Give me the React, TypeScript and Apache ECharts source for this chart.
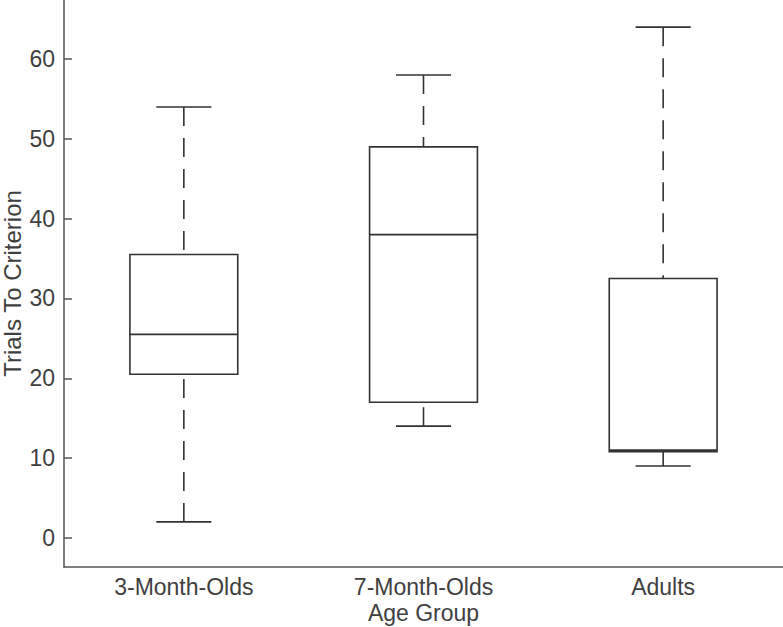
import React, { useEffect, useRef } from "react";
import * as echarts from "echarts";

const categories = ["3-Month-Olds", "7-Month-Olds", "Adults"];
const minValues = [2, 14, 9];
const q1Values = [20.5, 17, 10.8];
const medianValues = [25.5, 38, 11];
const q3Values = [35.5, 49, 32.5];
const maxValues = [54, 58, 64];
const yTicks = [0, 10, 20, 30, 40, 50, 60];

const FONT = "'Liberation Sans', Arial, Helvetica, sans-serif";
const TEXT = "#3f3f3f";
const AXIS = "#555555";
const LINE = "#333333";

export default function App() {
  const ref = useRef<HTMLDivElement>(null);
  useEffect(() => {
    if (!ref.current) return;
    const chart = echarts.init(ref.current, null, { renderer: "svg" });
    const data = categories.map((_, i) => [
      i,
      minValues[i],
      q1Values[i],
      medianValues[i],
      q3Values[i],
      maxValues[i],
    ]);
    chart.setOption({
      animation: false,
      backgroundColor: "#ffffff",
      grid: { left: 64, right: 0, top: 0, bottom: 60, outerBoundsMode: "none", containLabel: false },
      xAxis: {
        type: "category",
        data: categories,
        name: "Age Group",
        nameLocation: "middle",
        nameGap: 34,
        nameMoveOverlap: false,
        nameTextStyle: { color: TEXT, fontSize: 23, fontFamily: FONT },
        axisLine: { onZero: false, lineStyle: { color: AXIS, width: 1.5 } },
        axisTick: { inside: true, length: 8, alignWithLabel: true, lineStyle: { color: AXIS, width: 1.5 } },
        axisLabel: { color: TEXT, fontSize: 23, fontFamily: FONT, margin: 8 },
        splitLine: { show: false },
      },
      yAxis: {
        type: "value",
        min: -3.65,
        max: 67.4,
        name: "Trials To Criterion",
        nameLocation: "middle",
        nameGap: 40,
        nameMoveOverlap: false,
        nameTextStyle: { color: TEXT, fontSize: 24, fontFamily: FONT },
        axisLine: { show: true, onZero: false, lineStyle: { color: AXIS, width: 1.5 } },
        axisTick: { show: true, inside: true, length: 8, customValues: yTicks, lineStyle: { color: AXIS, width: 1.5 } },
        axisLabel: { color: TEXT, fontSize: 23, fontFamily: FONT, margin: 9, customValues: yTicks },
        splitLine: { show: false },
      },
      series: [
        {
          type: "custom",
          data,
          clip: false,
          renderItem: (params: any, api: any) => {
            const idx = api.value(0);
            const vMin = api.value(1);
            const vQ1 = api.value(2);
            const vMed = api.value(3);
            const vQ3 = api.value(4);
            const vMax = api.value(5);
            const band = api.size([1, 0])[0];
            const boxW = band * 0.45;
            const capW = band * 0.23;
            const pMin = api.coord([idx, vMin]);
            const pQ1 = api.coord([idx, vQ1]);
            const pMed = api.coord([idx, vMed]);
            const pQ3 = api.coord([idx, vQ3]);
            const pMax = api.coord([idx, vMax]);
            const cx = pMed[0];
            const solid = { stroke: LINE, lineWidth: 1.6, fill: "none" };
            const dashed = { stroke: LINE, lineWidth: 1.6, lineDash: [19, 12] };
            return {
              type: "group",
              children: [
                {
                  type: "line",
                  shape: { x1: cx, y1: pMax[1], x2: cx, y2: pQ3[1] },
                  style: dashed,
                },
                {
                  type: "line",
                  shape: { x1: cx, y1: pMin[1], x2: cx, y2: pQ1[1] },
                  style: dashed,
                },
                {
                  type: "line",
                  shape: { x1: cx - capW / 2, y1: pMax[1], x2: cx + capW / 2, y2: pMax[1] },
                  style: solid,
                },
                {
                  type: "line",
                  shape: { x1: cx - capW / 2, y1: pMin[1], x2: cx + capW / 2, y2: pMin[1] },
                  style: solid,
                },
                {
                  type: "rect",
                  shape: { x: cx - boxW / 2, y: pQ3[1], width: boxW, height: pQ1[1] - pQ3[1] },
                  style: { stroke: LINE, lineWidth: 1.6, fill: "#ffffff" },
                },
                {
                  type: "line",
                  shape: { x1: cx - boxW / 2, y1: pMed[1], x2: cx + boxW / 2, y2: pMed[1] },
                  style: solid,
                },
              ],
            };
          },
        },
      ],
    });
    return () => chart.dispose();
  }, []);
  return (
    <div
      ref={ref}
      style={{ position: "fixed", left: 0, top: 0, width: 783, height: 627, background: "#fff" }}
    />
  );
}
